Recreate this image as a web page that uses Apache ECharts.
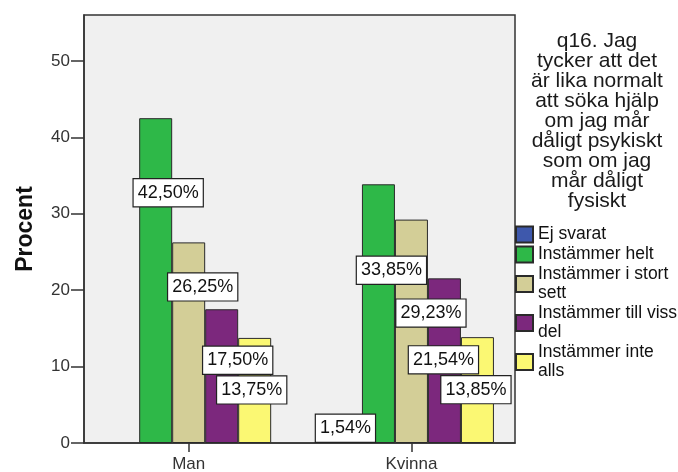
<!DOCTYPE html>
<html>
<head>
<meta charset="utf-8">
<script src="https://cdn.jsdelivr.net/npm/echarts@6/dist/echarts.min.js"></script>
<style>
  html, body { margin: 0; padding: 0; background: #ffffff; }
  #chart { width: 678px; height: 472px; }
</style>
</head>
<body>
<div id="chart"></div>
<script>
// Answer shares (percent) per gender group
const categories = ['Man', 'Kvinna'];
const seriesNames = [
  'Ej svarat',
  'Instämmer helt',
  'Instämmer i stort sett',
  'Instämmer till viss del',
  'Instämmer inte alls'
];
const ejSvarat    = [null, 1.54];
const instHelt    = [42.50, 33.85];
const instIStort  = [26.25, 29.23];
const instTillViss = [17.50, 21.54];
const instInte    = [13.75, 13.85];
const yTicks = [0, 10, 20, 30, 40, 50];

const legendTitle = 'q16. Jag\ntycker att det\när lika normalt\natt söka hjälp\nom jag mår\ndåligt psykiskt\nsom om jag\nmår dåligt\nfysiskt';
const legendWrapped = {
  'Ej svarat': 'Ej svarat',
  'Instämmer helt': 'Instämmer helt',
  'Instämmer i stort sett': 'Instämmer i stort\nsett',
  'Instämmer till viss del': 'Instämmer till viss\ndel',
  'Instämmer inte alls': 'Instämmer inte\nalls'
};

const values = [ejSvarat, instHelt, instIStort, instTillViss, instInte];
const colors = ['#3E58AC', '#2EB848', '#D3CE97', '#7C287D', '#FBF873'];

// Label nudges [dx, dy] from the bar's top edge, keeping value boxes apart
const labelNudge = [
  [[0, 0], [0, -16.5]],
  [[12.5, 61], [13, 72.5]],
  [[14, 31], [19.5, 80]],
  [[16, 37.5], [-1, 68]],
  [[-3, 38.5], [-1.5, 39]]
];

const FONT = "'Liberation Sans', Arial, sans-serif";

const series = seriesNames.map((name, s) => ({
  name: name,
  type: 'bar',
  barWidth: 33,
  barGap: '0%',
  itemStyle: { color: colors[s], borderColor: '#2a2a2a', borderWidth: 1 },
  label: {
    show: true,
    position: 'insideTop',
    distance: 0,
    formatter: p => p.value[1].toFixed(2).replace('.', ',') + '%',
    fontFamily: FONT,
    fontSize: 18,
    lineHeight: 19,
    color: '#111',
    backgroundColor: '#ffffff',
    borderColor: '#222',
    borderWidth: 1.2,
    padding: [4, 4, 4, 4]
  },
  data: categories
    .map((c, i) => values[s][i] == null ? null : {
      value: [i, values[s][i]],
      label: { offset: labelNudge[s][i] }
    })
    .filter(d => d !== null)
}));

const chart = echarts.init(document.getElementById('chart'), null, { renderer: 'canvas' });
chart.setOption({
  animation: false,
  backgroundColor: '#ffffff',
  textStyle: { fontFamily: FONT },
  title: {
    text: legendTitle,
    left: 597,
    top: 31,
    padding: 0,
    textAlign: 'center',
    textStyle: { fontFamily: FONT, fontSize: 21, fontWeight: 'normal', lineHeight: 20, color: '#1a1a1a' }
  },
  legend: {
    orient: 'vertical',
    left: 515,
    top: 225,
    padding: 0,
    itemWidth: 17,
    itemHeight: 16,
    itemGap: 1,
    icon: 'rect',
    data: seriesNames,
    formatter: name => legendWrapped[name],
    textStyle: { fontFamily: FONT, fontSize: 17.5, lineHeight: 19, color: '#111' }
  },
  grid: {
    left: 84,
    right: 163,
    top: 15,
    bottom: 29,
    outerBoundsMode: 'none',
    containLabel: false,
    show: true,
    backgroundColor: '#f0f0f0',
    borderColor: '#333',
    borderWidth: 1.5
  },
  xAxis: {
    type: 'value',
    min: -0.47,
    max: 1.465,
    splitLine: { show: false },
    axisLine: { show: true, onZero: false, lineStyle: { color: '#333', width: 1.5 } },
    axisTick: { show: true, customValues: [0, 1], length: 9, lineStyle: { color: '#333', width: 1.5 } },
    axisLabel: {
      customValues: [0, 1],
      formatter: v => categories[Math.round(v)],
      margin: 13,
      fontFamily: FONT,
      fontSize: 17,
      color: '#333'
    }
  },
  yAxis: {
    type: 'value',
    min: 0,
    max: 56,
    name: 'Procent',
    nameLocation: 'middle',
    nameRotate: 90,
    nameGap: 47,
    nameTextStyle: { fontFamily: FONT, fontSize: 23, fontWeight: 'bold', color: '#111' },
    splitLine: { show: false },
    axisLine: { show: true, onZero: false, lineStyle: { color: '#333', width: 1.5 } },
    axisTick: { show: true, customValues: yTicks, length: 13, lineStyle: { color: '#333', width: 1.5 } },
    axisLabel: {
      customValues: yTicks,
      margin: 14,
      fontFamily: FONT,
      fontSize: 17,
      color: '#333'
    }
  },
  series: series
});
</script>
</body>
</html>
